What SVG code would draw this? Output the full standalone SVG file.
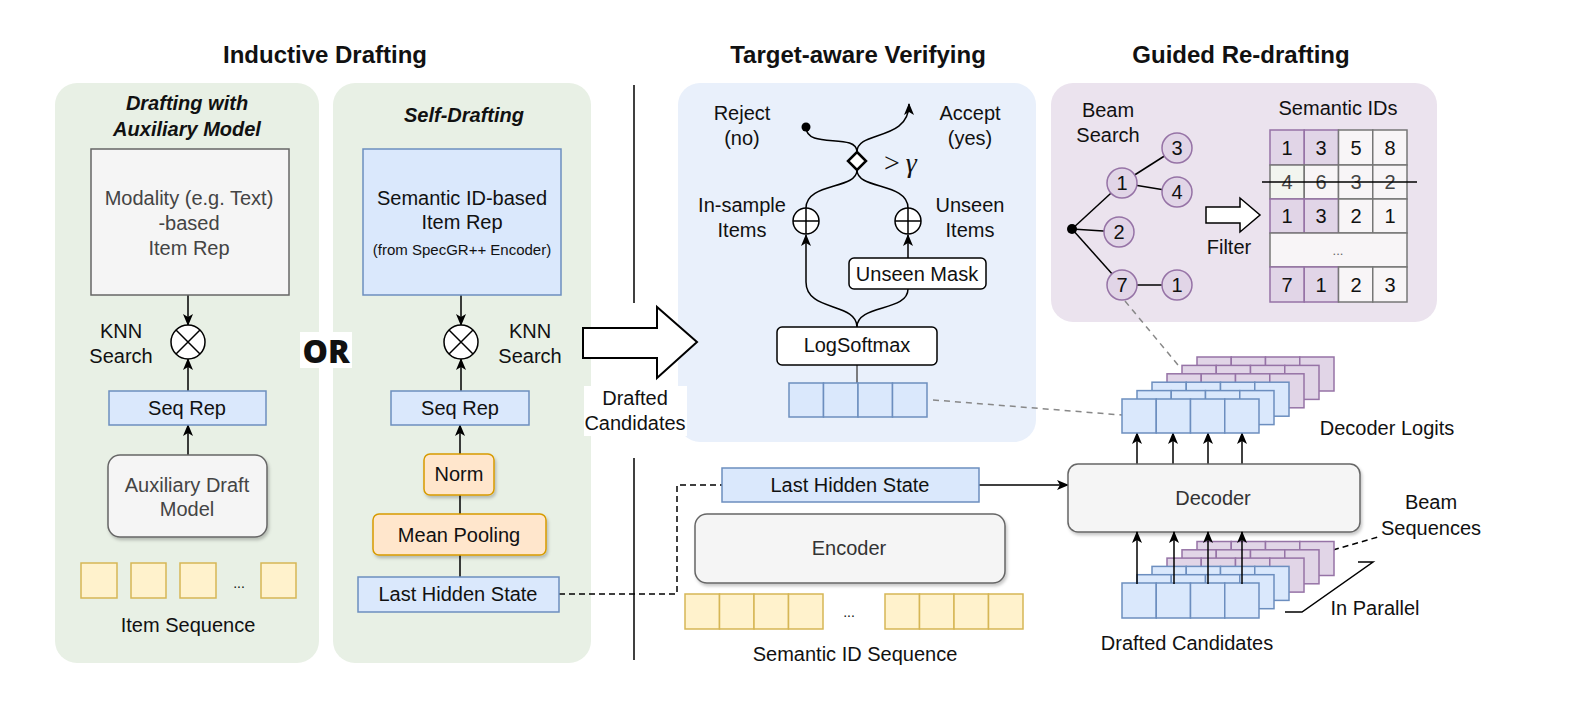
<svg xmlns="http://www.w3.org/2000/svg" width="1580" height="718" viewBox="0 0 1580 718">
<defs>
<marker id="arr" markerUnits="userSpaceOnUse" markerWidth="12" markerHeight="12" refX="11" refY="5" orient="auto"><path d="M0,0 L12,5 L0,10 L3,5 z" fill="#000"/></marker>
<filter id="sh" x="-10%" y="-10%" width="130%" height="140%"><feDropShadow dx="1.5" dy="2.5" stdDeviation="1.5" flood-color="#000" flood-opacity="0.22"/></filter>
</defs>
<style>
text{font-family:"Liberation Sans",Arial,sans-serif;font-size:20px;fill:#111;text-anchor:middle}
.title{font-size:24px;font-weight:bold}
.sub{font-weight:bold;font-style:italic}
.g{fill:#444}
.blue{fill:#dae8fc;stroke:#6c8ebf;stroke-width:1.5}
.yel{fill:#fff2cc;stroke:#d6b656;stroke-width:1.5}
.org{fill:#ffe6cc;stroke:#d79b00;stroke-width:1.5}
.gry{fill:#f5f5f5;stroke:#666;stroke-width:1.5}
.pur{fill:#e1d5e7;stroke:#9673a6;stroke-width:1.5}
.lt{fill:#f8f5f7;stroke:#777;stroke-width:1.5}
.wb{fill:#fff;stroke:#000;stroke-width:1.5}
.ln{fill:none;stroke:#000;stroke-width:1.5}
.ar{marker-end:url(#arr)}
.dash{fill:none;stroke:#000;stroke-width:1.5;stroke-dasharray:6 4}
.gdash{fill:none;stroke:#888;stroke-width:1.5;stroke-dasharray:6 5}
</style>
<rect width="1580" height="718" fill="#fff"/>

<g id="panels">
<rect x="55" y="83" width="264" height="580" rx="22" fill="#e8f0e5"/>
<rect x="333" y="83" width="258" height="580" rx="22" fill="#e8f0e5"/>
<rect x="678" y="83" width="358" height="359" rx="22" fill="#e9f0fb"/>
<rect x="1051" y="83" width="386" height="239" rx="22" fill="#ebe3ee"/>
</g>

<g id="titles">
<text class="title" x="325" y="63">Inductive Drafting</text>
<text class="title" x="858" y="63">Target-aware Verifying</text>
<text class="title" x="1241" y="63">Guided Re-drafting</text>
<text class="sub" x="187" y="110">Drafting with</text>
<text class="sub" x="187" y="136">Auxiliary Model</text>
<text class="sub" x="464" y="122">Self-Drafting</text>
</g>

<g id="separator">
<line x1="634" y1="85" x2="634" y2="303" class="ln"/>
<line x1="634" y1="458" x2="634" y2="660" class="ln"/>
</g>

<g id="connectors">
<line x1="188" y1="295" x2="188" y2="325" class="ln ar"/>
<line x1="188" y1="391" x2="188" y2="359" class="ln ar"/>
<line x1="188" y1="455" x2="188" y2="425" class="ln ar"/>
<line x1="461" y1="295" x2="461" y2="325" class="ln ar"/>
<line x1="461" y1="391" x2="461" y2="359" class="ln ar"/>
<line x1="460" y1="454" x2="460" y2="425" class="ln ar"/>
<line x1="460" y1="514" x2="460" y2="495" class="ln"/>
<line x1="460" y1="577" x2="460" y2="555" class="ln"/>
<path d="M559,594 H677 V485 H722" class="dash"/>
<path d="M806,127 C806,150 857,132 857,152" class="ln"/>
<path d="M857,152 C857,130 909,142 909,104" class="ln ar"/>
<path d="M857,170 C857,190 806,182 806,208" class="ln"/>
<path d="M857,170 C857,190 908,182 908,208" class="ln"/>
<line x1="908" y1="258" x2="908" y2="235" class="ln ar"/>
<path d="M857,327 C857,302 806,312 806,282 L806,235" class="ln ar"/>
<path d="M857,327 C857,304 908,312 908,289" class="ln"/>
<line x1="857" y1="365" x2="857" y2="383" stroke="#555" stroke-width="1.5"/>
<path d="M933,400 L1122,415" class="gdash"/>
<path d="M1125,301 L1178,365" class="gdash"/>
<line x1="1072" y1="229" x2="1122" y2="183" class="ln"/>
<line x1="1072" y1="229" x2="1119" y2="232" class="ln"/>
<line x1="1072" y1="229" x2="1122" y2="285" class="ln"/>
<line x1="1122" y1="183" x2="1177" y2="148" class="ln"/>
<line x1="1122" y1="183" x2="1177" y2="192" class="ln"/>
<line x1="1122" y1="285" x2="1177" y2="285" class="ln"/>
<line x1="979" y1="485" x2="1068" y2="485" class="ln ar"/>
<line x1="1137" y1="464" x2="1137" y2="433" class="ln ar"/>
<line x1="1173" y1="464" x2="1173" y2="433" class="ln ar"/>
<line x1="1208" y1="464" x2="1208" y2="433" class="ln ar"/>
<line x1="1242" y1="464" x2="1242" y2="433" class="ln ar"/>
<path d="M1333,550 L1378,537" class="dash"/>
<polyline points="1358,562 1373,562 1302,612 1285,612" class="ln"/>
</g>

<g id="modality-rep">
<rect x="91" y="149" width="198" height="146" class="gry"/>
<text class="g" x="189" y="205">Modality (e.g. Text)</text>
<text class="g" x="189" y="230">-based</text>
<text class="g" x="189" y="255">Item Rep</text>
</g>

<g id="knn-left">
<circle cx="188" cy="342" r="17" class="wb"/>
<path d="M176,330 L200,354 M200,330 L176,354" class="ln"/>
<text x="121" y="338">KNN</text>
<text x="121" y="363">Search</text>
</g>

<g id="seqrep-left">
<rect x="109" y="391" width="157" height="34" class="blue"/>
<text x="187" y="415">Seq Rep</text>
</g>

<g id="aux-model">
<rect x="108" y="455" width="159" height="82" rx="12" class="gry" filter="url(#sh)"/>
<text class="g" x="187" y="492">Auxiliary Draft</text>
<text class="g" x="187" y="516">Model</text>
</g>

<g id="item-seq">
<rect x="81" y="563" width="36" height="35" class="yel"/>
<rect x="131" y="563" width="35" height="35" class="yel"/>
<rect x="180" y="563" width="36" height="35" class="yel"/>
<rect x="261" y="563" width="35" height="35" class="yel"/>
<text x="239" y="588" style="font-size:14px">...</text>
<text x="188" y="632">Item Sequence</text>
</g>

<g id="semantic-rep">
<rect x="363" y="149" width="198" height="146" class="blue"/>
<text x="462" y="205">Semantic ID-based</text>
<text x="462" y="229">Item Rep</text>
<text x="462" y="255" style="font-size:15px">(from SpecGR++ Encoder)</text>
</g>

<g id="knn-right">
<circle cx="461" cy="342" r="17" class="wb"/>
<path d="M449,330 L473,354 M473,330 L449,354" class="ln"/>
<text x="530" y="338">KNN</text>
<text x="530" y="363">Search</text>
</g>

<g id="seqrep-right">
<rect x="391" y="391" width="138" height="34" class="blue"/>
<text x="460" y="415">Seq Rep</text>
</g>

<g id="norm">
<rect x="424" y="454" width="70" height="41" rx="6" class="org" filter="url(#sh)"/>
<text x="459" y="481">Norm</text>
</g>

<g id="mean-pooling">
<rect x="373" y="514" width="173" height="41" rx="6" class="org" filter="url(#sh)"/>
<text x="459" y="542">Mean Pooling</text>
</g>

<g id="last-hidden-left">
<rect x="358" y="577" width="201" height="35" class="blue"/>
<text x="458" y="601">Last Hidden State</text>
</g>

<g id="or">
<rect x="300" y="332" width="52" height="36" fill="#fff"/>
<text x="326" y="363" style="font-family:'Open Sans','Liberation Sans',sans-serif;font-size:32px;font-weight:800">OR</text>
</g>

<g id="big-arrow">
<polygon points="583,328 657,328 657,307 697,342 657,378 657,358 583,358" fill="#fff" stroke="#000" stroke-width="2" stroke-linejoin="miter"/>
<rect x="584" y="386" width="103" height="50" fill="#fff"/>
<text x="635" y="405">Drafted</text>
<text x="635" y="430">Candidates</text>
</g>

<g id="decision">
<text x="742" y="120">Reject</text>
<text x="742" y="145">(no)</text>
<text x="970" y="120">Accept</text>
<text x="970" y="145">(yes)</text>
<circle cx="806" cy="127" r="4.5" fill="#000"/>
<polygon points="857,152 866,161 857,170 848,161" fill="#fff" stroke="#000" stroke-width="2.5"/>
<text x="884" y="172" style="font-family:'Liberation Serif',serif;font-size:28px;text-anchor:start">&gt;<tspan dx="6" font-style="italic">γ</tspan></text>
</g>

<g id="insample">
<circle cx="806" cy="221" r="13" class="wb"/>
<path d="M793,221 H819 M806,208 V234" class="ln"/>
<text x="742" y="212">In-sample</text>
<text x="742" y="237">Items</text>
</g>

<g id="unseen">
<circle cx="908" cy="221" r="13" class="wb"/>
<path d="M895,221 H921 M908,208 V234" class="ln"/>
<text x="970" y="212">Unseen</text>
<text x="970" y="237">Items</text>
</g>

<g id="unseen-mask">
<rect x="849" y="258" width="137" height="31" rx="5" class="wb"/>
<text x="917" y="281">Unseen Mask</text>
</g>

<g id="logsoftmax">
<rect x="777" y="327" width="160" height="38" rx="5" class="wb"/>
<text x="857" y="352">LogSoftmax</text>
</g>

<g id="verify-cells">
<rect x="789" y="383" width="34.5" height="34" class="blue"/>
<rect x="823.5" y="383" width="34.5" height="34" class="blue"/>
<rect x="858" y="383" width="34.5" height="34" class="blue"/>
<rect x="892.5" y="383" width="34.5" height="34" class="blue"/>
</g>

<g id="beam-search">
<text x="1108" y="117">Beam</text>
<text x="1108" y="142">Search</text>
<circle cx="1072" cy="229" r="5" fill="#000"/>
<circle cx="1122" cy="183" r="15" class="pur"/><text x="1122" y="190">1</text>
<circle cx="1119" cy="232" r="15" class="pur"/><text x="1119" y="239">2</text>
<circle cx="1122" cy="285" r="15" class="pur"/><text x="1122" y="292">7</text>
<circle cx="1177" cy="148" r="15" class="pur"/><text x="1177" y="155">3</text>
<circle cx="1177" cy="192" r="15" class="pur"/><text x="1177" y="199">4</text>
<circle cx="1177" cy="285" r="15" class="pur"/><text x="1177" y="292">1</text>
</g>

<g id="filter">
<polygon points="1206,207 1240,207 1240,198 1260,215 1240,232 1240,223 1206,223" fill="#fff" stroke="#000" stroke-width="1.5"/>
<text x="1229" y="254">Filter</text>
</g>

<g id="semantic-ids">
<text x="1338" y="115">Semantic IDs</text>
<rect x="1270" y="130" width="34.25" height="35" class="pur"/><text x="1287" y="155">1</text>
<rect x="1304.25" y="130" width="34.25" height="35" class="pur"/><text x="1321" y="155">3</text>
<rect x="1338.5" y="130" width="34.25" height="35" class="lt"/><text x="1356" y="155">5</text>
<rect x="1372.75" y="130" width="34.25" height="35" class="lt"/><text x="1390" y="155">8</text>
<rect x="1270" y="165" width="34.25" height="34" fill="#f2f5ef" stroke="#777" stroke-width="1.5"/><text class="g" x="1287" y="189">4</text>
<rect x="1304.25" y="165" width="34.25" height="34" class="lt"/><text class="g" x="1321" y="189">6</text>
<rect x="1338.5" y="165" width="34.25" height="34" class="lt"/><text class="g" x="1356" y="189">3</text>
<rect x="1372.75" y="165" width="34.25" height="34" class="lt"/><text class="g" x="1390" y="189">2</text>
<rect x="1270" y="199" width="34.25" height="34" class="pur"/><text x="1287" y="223">1</text>
<rect x="1304.25" y="199" width="34.25" height="34" class="pur"/><text x="1321" y="223">3</text>
<rect x="1338.5" y="199" width="34.25" height="34" class="lt"/><text x="1356" y="223">2</text>
<rect x="1372.75" y="199" width="34.25" height="34" class="lt"/><text x="1390" y="223">1</text>
<rect x="1270" y="233" width="137" height="34" class="lt"/><text x="1338" y="255" style="font-size:13px;fill:#666">...</text>
<rect x="1270" y="267" width="34.25" height="35" class="pur"/><text x="1287" y="292">7</text>
<rect x="1304.25" y="267" width="34.25" height="35" class="pur"/><text x="1321" y="292">1</text>
<rect x="1338.5" y="267" width="34.25" height="35" class="lt"/><text x="1356" y="292">2</text>
<rect x="1372.75" y="267" width="34.25" height="35" class="lt"/><text x="1390" y="292">3</text>
<line x1="1262" y1="182" x2="1417" y2="182" stroke="#000" stroke-width="1.5"/>
</g>

<g id="decoder-logits">
<g class="pur"><rect x="1197" y="357" width="34.25" height="34"/><rect x="1231.25" y="357" width="34.25" height="34"/><rect x="1265.5" y="357" width="34.25" height="34"/><rect x="1299.75" y="357" width="34.25" height="34"/></g>
<g class="pur"><rect x="1182" y="365.4" width="34.25" height="34"/><rect x="1216.25" y="365.4" width="34.25" height="34"/><rect x="1250.5" y="365.4" width="34.25" height="34"/><rect x="1284.75" y="365.4" width="34.25" height="34"/></g>
<g class="pur"><rect x="1167" y="373.8" width="34.25" height="34"/><rect x="1201.25" y="373.8" width="34.25" height="34"/><rect x="1235.5" y="373.8" width="34.25" height="34"/><rect x="1269.75" y="373.8" width="34.25" height="34"/></g>
<g class="blue"><rect x="1152" y="382.2" width="34.25" height="34"/><rect x="1186.25" y="382.2" width="34.25" height="34"/><rect x="1220.5" y="382.2" width="34.25" height="34"/><rect x="1254.75" y="382.2" width="34.25" height="34"/></g>
<g class="blue"><rect x="1137" y="390.6" width="34.25" height="34"/><rect x="1171.25" y="390.6" width="34.25" height="34"/><rect x="1205.5" y="390.6" width="34.25" height="34"/><rect x="1239.75" y="390.6" width="34.25" height="34"/></g>
<g class="blue"><rect x="1122" y="399" width="34.25" height="34"/><rect x="1156.25" y="399" width="34.25" height="34"/><rect x="1190.5" y="399" width="34.25" height="34"/><rect x="1224.75" y="399" width="34.25" height="34"/></g>
<text x="1387" y="435">Decoder Logits</text>
</g>

<g id="decoder">
<rect x="1068" y="464" width="292" height="68" rx="10" class="gry" filter="url(#sh)"/>
<text x="1213" y="505" style="fill:#333">Decoder</text>
</g>

<g id="beam-sequences">
<g class="pur"><rect x="1197" y="541.5" width="34.25" height="34"/><rect x="1231.25" y="541.5" width="34.25" height="34"/><rect x="1265.5" y="541.5" width="34.25" height="34"/><rect x="1299.75" y="541.5" width="34.25" height="34"/></g>
<g class="pur"><rect x="1182" y="549.8" width="34.25" height="34"/><rect x="1216.25" y="549.8" width="34.25" height="34"/><rect x="1250.5" y="549.8" width="34.25" height="34"/><rect x="1284.75" y="549.8" width="34.25" height="34"/></g>
<g class="pur"><rect x="1167" y="558.1" width="34.25" height="34"/><rect x="1201.25" y="558.1" width="34.25" height="34"/><rect x="1235.5" y="558.1" width="34.25" height="34"/><rect x="1269.75" y="558.1" width="34.25" height="34"/></g>
<g class="blue"><rect x="1152" y="566.4" width="34.25" height="34"/><rect x="1186.25" y="566.4" width="34.25" height="34"/><rect x="1220.5" y="566.4" width="34.25" height="34"/><rect x="1254.75" y="566.4" width="34.25" height="34"/></g>
<g class="blue"><rect x="1137" y="574.7" width="34.25" height="34"/><rect x="1171.25" y="574.7" width="34.25" height="34"/><rect x="1205.5" y="574.7" width="34.25" height="34"/><rect x="1239.75" y="574.7" width="34.25" height="34"/></g>
<g class="blue"><rect x="1122" y="583" width="34.25" height="35"/><rect x="1156.25" y="583" width="34.25" height="35"/><rect x="1190.5" y="583" width="34.25" height="35"/><rect x="1224.75" y="583" width="34.25" height="35"/></g>
<line x1="1137" y1="584" x2="1137" y2="532" class="ln ar"/>
<line x1="1174" y1="584" x2="1174" y2="532" class="ln ar"/>
<line x1="1208" y1="584" x2="1208" y2="532" class="ln ar"/>
<line x1="1242" y1="584" x2="1242" y2="532" class="ln ar"/>
<text x="1431" y="509">Beam</text>
<text x="1431" y="535">Sequences</text>
<text x="1375" y="615">In Parallel</text>
<text x="1187" y="650">Drafted Candidates</text>
</g>

<g id="last-hidden-right">
<rect x="722" y="468" width="257" height="34" class="blue"/>
<text x="850" y="492">Last Hidden State</text>
</g>

<g id="encoder">
<rect x="695" y="514" width="310" height="69" rx="12" class="gry" filter="url(#sh)"/>
<text x="849" y="555" style="fill:#333">Encoder</text>
</g>

<g id="semantic-id-seq">
<rect x="685" y="594" width="34.5" height="35" class="yel"/>
<rect x="719.5" y="594" width="34.5" height="35" class="yel"/>
<rect x="754" y="594" width="34.5" height="35" class="yel"/>
<rect x="788.5" y="594" width="34.5" height="35" class="yel"/>
<text x="849" y="617" style="font-size:14px">...</text>
<rect x="885" y="594" width="34.5" height="35" class="yel"/>
<rect x="919.5" y="594" width="34.5" height="35" class="yel"/>
<rect x="954" y="594" width="34.5" height="35" class="yel"/>
<rect x="988.5" y="594" width="34.5" height="35" class="yel"/>
<text x="855" y="661">Semantic ID Sequence</text>
</g>
</svg>
